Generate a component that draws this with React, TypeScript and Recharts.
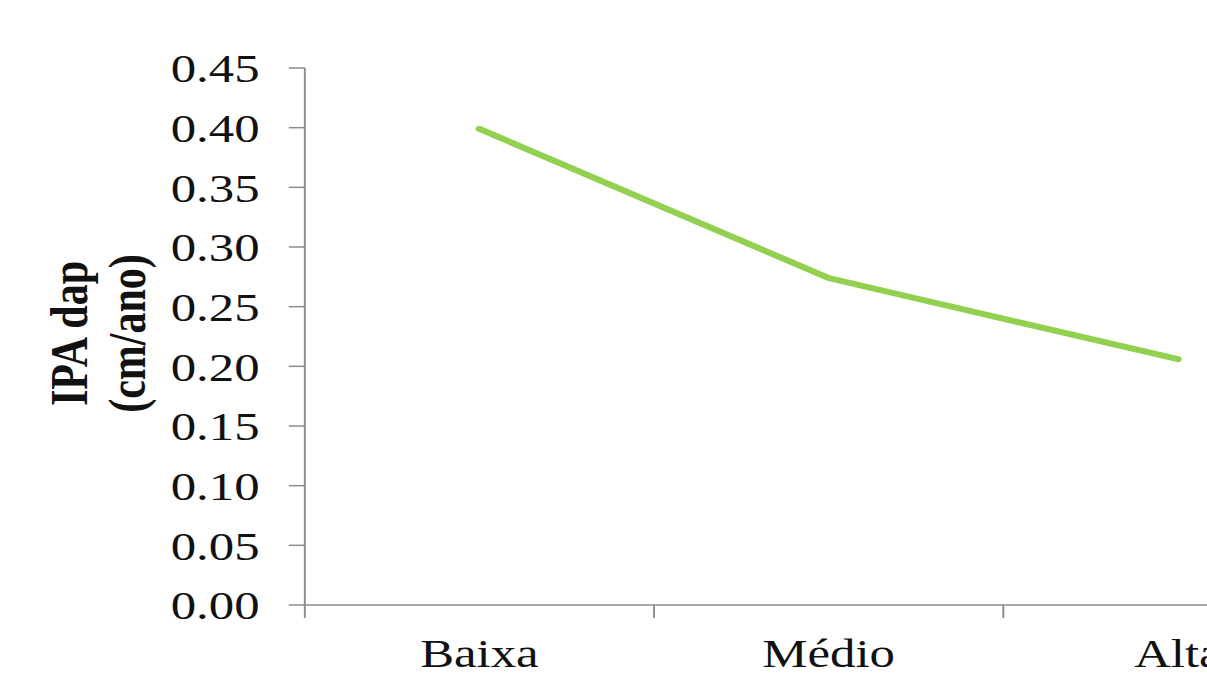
import React from 'react'
import { LineChart, Line, XAxis, YAxis, Label } from 'recharts'

// categories and values
const categories = ['Baixa', 'Médio', 'Alta']
const ipaValues = [0.399, 0.274, 0.206]
const yTicks = [0, 0.05, 0.1, 0.15, 0.2, 0.25, 0.3, 0.35, 0.4, 0.45]
// category boundaries (tick marks) and centres (labels)
const xTicks = [0, 0.5, 1, 1.5, 2, 2.5, 3]

const data = ipaValues.map((v, i) => ({ pos: i + 0.5, ipa: v }))

const FONT = '"Liberation Serif", "Times New Roman", serif'
const AXIS = '#8c8c8c'
// the original picture is stretched horizontally
const STRETCH = 1.27

const XTick = (props: any) => {
  const { x, y, payload } = props
  const v = payload.value
  if (Number.isInteger(v)) {
    return <line x1={x} y1={y} x2={x} y2={y + 13} stroke={AXIS} strokeWidth={1.5} />
  }
  return (
    <text x={x} y={y + 62} textAnchor="middle" fontFamily={FONT} fontSize={40} fill="#111">
      {categories[Math.floor(v)]}
    </text>
  )
}

const App = () => {
  return (
    <div style={{ position: 'fixed', left: 0, top: 0, width: 1207, height: 682, overflow: 'hidden', background: '#fff' }}>
      <div style={{ width: 1075, height: 682, transform: `scaleX(${STRETCH})`, transformOrigin: '0 0' }}>
        <LineChart width={1075} height={682} data={data} margin={{ top: 68, right: 10, bottom: 0, left: 0 }}>
          <XAxis
            dataKey="pos"
            type="number"
            domain={[0, 3]}
            ticks={xTicks}
            interval={0}
            tick={<XTick />}
            tickLine={false}
            tickSize={0}
            tickMargin={0}
            height={77}
            stroke={AXIS}
            strokeWidth={1.5}
          />
          <YAxis
            type="number"
            domain={[0, 0.45]}
            ticks={yTicks}
            interval={0}
            width={240}
            tickSize={12.6}
            tickMargin={23}
            tickFormatter={(v: number) => v.toFixed(2)}
            tick={{ fontFamily: FONT, fontSize: 40, fill: '#111' }}
            stroke={AXIS}
            strokeWidth={1.5}
          >
            <Label
              content={({ viewBox }: any) => {
                const cx = 68.5
                const cy = viewBox ? viewBox.y + viewBox.height / 2 - 3 : 332
                return (
                  <text
                    transform={`rotate(-90, ${cx}, ${cy})`}
                    x={cx}
                    y={cy}
                    textAnchor="middle"
                    fontFamily={FONT}
                    fontWeight="bold"
                    fontSize={42}
                    fill="#111"
                  >
                    <tspan x={cx} y={cy}>IPA dap</tspan>
                    <tspan x={cx} y={cy + 45.5}>(cm/ano)</tspan>
                  </text>
                )
              }}
            />
          </YAxis>
          <Line
            type="linear"
            dataKey="ipa"
            stroke="#92D050"
            strokeWidth={6}
            strokeLinecap="round"
            dot={false}
            activeDot={false}
            isAnimationActive={false}
          />
        </LineChart>
      </div>
    </div>
  )
}

export default App
